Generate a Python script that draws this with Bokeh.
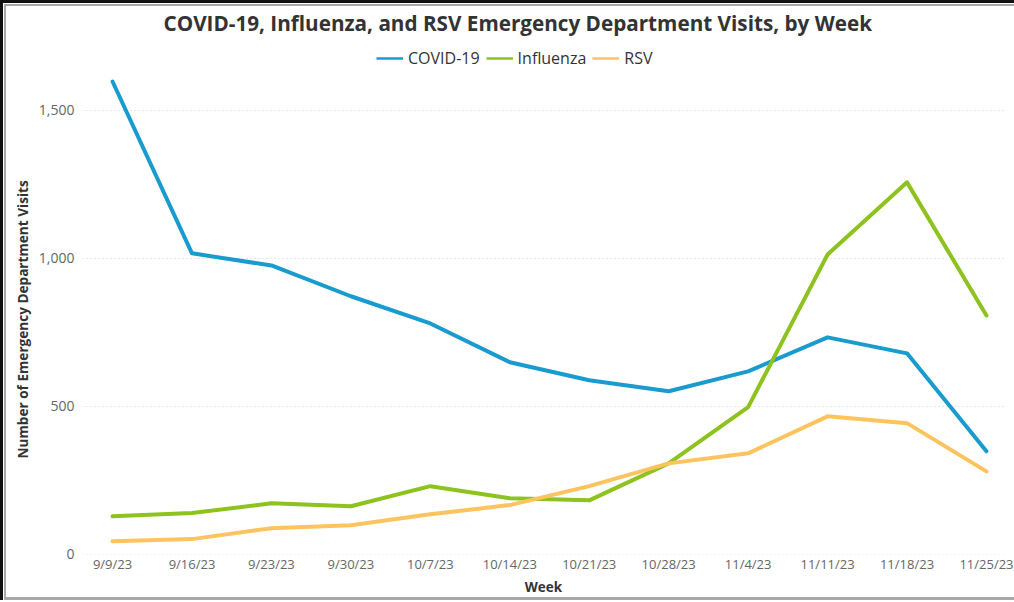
from bokeh.plotting import figure
from bokeh.models import NumeralTickFormatter, FixedTicker, Legend, Title
from bokeh.embed import file_html
from bokeh.resources import INLINE

weeks = ["9/9/23", "9/16/23", "9/23/23", "9/30/23", "10/7/23", "10/14/23",
         "10/21/23", "10/28/23", "11/4/23", "11/11/23", "11/18/23", "11/25/23"]
covid = [1598, 1017, 976, 872, 780, 649, 588, 551, 618, 733, 679, 348]
influenza = [128, 139, 172, 162, 230, 189, 182, 307, 497, 1013, 1257, 807]
rsv = [44, 51, 88, 98, 135, 166, 230, 307, 341, 466, 443, 280]
y_ticks = [0, 500, 1000, 1500]

xs = list(range(len(weeks)))
font = "Open Sans"

p = figure(width=1014, height=600, output_backend="svg", toolbar_location=None,
           x_range=(-0.378, 11.227), y_range=(-1, 1723),
           min_border_left=82, min_border_right=10, min_border_bottom=46,
           min_border_top=44)

# thin double frame around the chart (as in the reference screenshot)
p.styles = {"box-shadow": "inset 3px 3px 0 0 #111111, inset 4px 4px 0 0 #ffffff, "
                          "inset 6px 6px 0 0 #a8a8a8, inset 0 -3px 0 0 #a8a8a8"}
p.border_fill_alpha = 0
p.background_fill_alpha = 0

p.title.text = "COVID-19, Influenza, and RSV Emergency Department Visits, by Week"
p.title.align = "left"
p.title.offset = 81
p.title.vertical_align = "top"
p.title.standoff = 12
p.title.text_font = font
p.title.text_font_size = "20.7px"
p.title.text_font_style = "bold"
p.title.text_color = "#333333"

colors = {"COVID-19": "#1a9bd0", "Influenza": "#8dc21f", "RSV": "#fdc35f"}
series = [("COVID-19", covid), ("Influenza", influenza), ("RSV", rsv)]
# thin lines (used as legend keys), drawn underneath the main lines
items = []
for name, vals in series:
    r = p.line(xs, vals, line_width=2.5, color=colors[name])
    items.append((name, [r]))
for name, vals in series:
    p.line(xs, vals, line_width=4, color=colors[name], line_join="round", line_cap="round")

legend = Legend(items=items, orientation="horizontal", location=(294, 485),
                label_text_font=font, label_text_font_size="16px", label_text_color="#333333",
                glyph_width=27, glyph_height=16, spacing=6, label_standoff=5, padding=0, margin=0,
                border_line_color=None, background_fill_alpha=0)
p.add_layout(legend, "center")

# axes
p.xaxis.ticker = FixedTicker(ticks=xs)
p.xaxis.major_label_overrides = {i: w for i, w in enumerate(weeks)}
p.yaxis.ticker = FixedTicker(ticks=y_ticks)
p.yaxis.formatter = NumeralTickFormatter(format="0,0")
for ax in (p.xaxis[0], p.yaxis[0]):
    ax.axis_line_color = None
    ax.major_tick_line_color = None
    ax.minor_tick_line_color = None
    ax.major_tick_out = 0
    ax.major_tick_in = 0
    ax.major_label_text_font = font
    ax.major_label_text_color = "#666666"
    ax.axis_label_text_font = font
    ax.axis_label_text_font_style = "bold"
    ax.axis_label_text_color = "#333333"

p.xaxis.major_label_text_font_size = "13px"
p.yaxis.major_label_text_font_size = "14px"
p.xaxis.axis_label = "Week"
p.xaxis.axis_label_text_font_size = "13.5px"
p.xaxis.major_label_standoff = 0
p.xaxis.axis_label_standoff = 2
p.yaxis.major_label_standoff = 8

ylab = Title(text="Number of Emergency Department Visits", align="left", offset=96,
             text_font=font, text_font_size="13.6px", text_font_style="bold",
             text_color="#333333", standoff=8)
p.add_layout(ylab, "left")

p.xgrid.grid_line_color = None
p.ygrid.ticker = FixedTicker(ticks=y_ticks)
p.ygrid.grid_line_color = "#d0d0d0"
p.ygrid.grid_line_dash = "1 3"
p.ygrid.grid_line_width = 1

p.outline_line_color = None

open("out.html", "w").write(file_html(p, INLINE))
